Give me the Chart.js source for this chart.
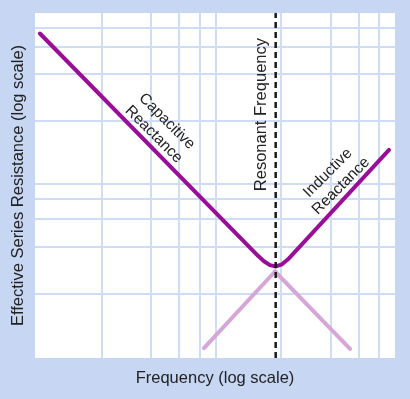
<!DOCTYPE html>
<html>
<head>
<meta charset="utf-8">
<title>ESR vs Frequency</title>
<script src="https://cdn.jsdelivr.net/npm/chart.js@4.4.0/dist/chart.umd.min.js"></script>
<style>
  html, body { margin: 0; padding: 0; background: #c6d6f3; }
  canvas { display: block; }
</style>
</head>
<body>
<canvas id="chart" width="410" height="399"></canvas>
<script>
// grid positions (log scale, both axes)
const freqGrid = [1, 2, 3, 4, 5, 12.6, 25.4, 38, 50.5];
const resGrid = [1, 2, 3, 4, 5, 12.4, 24.8, 36.8, 48.5];

// effective series resistance curve
const esrFreq = [0.418, 9.10, 9.90, 10.78, 11.73, 12.77, 13.90, 15.13, 57.9];
const esrValue = [44.7, 1.748, 1.613, 1.526, 1.496, 1.544, 1.661, 1.826, 8.19];

// reactance lines below the resonance
const inductiveFreq = [4.24, 11.57];
const inductiveValue = [0.455, 1.39];
const capacitiveFreq = [11.57, 33.4];
const capacitiveValue = [1.39, 0.449];

const resonantFreq = 11.68;

// labels on the plot
const noteText = [["Capacitive", "Reactance"], ["Inductive", "Reactance"], ["Resonant Frequency"]];
const noteAt = [[2.29, 11.29], [26.8, 5.32], [9.52, 13.7]];
const noteAngle = [45, -45, -90];

document.addEventListener("DOMContentLoaded", function () {
  const ctx = document.getElementById("chart").getContext("2d");

  const toPoints = (xs, ys) => xs.map((x, i) => ({ x: x, y: ys[i] }));

  const background = {
    id: "background",
    beforeDraw(chart) {
      const c = chart.ctx;
      const a = chart.chartArea;
      c.save();
      c.fillStyle = "#c6d6f3";
      c.fillRect(0, 0, chart.width, chart.height);
      c.fillStyle = "#ffffff";
      c.fillRect(a.left, a.top, a.right - a.left, a.bottom - a.top);
      c.restore();
    },
  };

  const notes = {
    id: "notes",
    afterDatasetsDraw(chart) {
      const c = chart.ctx;
      const xs = chart.scales.x;
      const ys = chart.scales.y;
      c.save();
      c.fillStyle = "#222222";
      c.textAlign = "center";
      c.textBaseline = "middle";
      noteText.forEach((lines, i) => {
        const px = xs.getPixelForValue(noteAt[i][0]);
        const py = ys.getPixelForValue(noteAt[i][1]);
        c.save();
        c.translate(px, py);
        c.rotate((noteAngle[i] * Math.PI) / 180);
        c.font = lines.length > 1 ? "15.5px 'Liberation Sans', Arial, sans-serif" : "16.5px 'Liberation Sans', Arial, sans-serif";
        const lh = 18.5;
        lines.forEach((t, j) => {
          c.fillText(t, 0, (j - (lines.length - 1) / 2) * lh);
        });
        c.restore();
      });
      c.restore();
    },
  };

  const chartConfig = {
    type: "line",
    data: {
      datasets: [
        {
          label: "Resonant Frequency",
          data: [{ x: resonantFreq, y: 0.3936 }, { x: resonantFreq, y: 60.3 }],
          borderColor: "#1a1a1a",
          borderWidth: 2.5,
          borderDash: [6, 4],
          pointRadius: 0,
        },
        {
          label: "ESR",
          data: toPoints(esrFreq, esrValue),
          borderColor: "#990d99",
          borderWidth: 4,
          borderCapStyle: "round",
          borderJoinStyle: "round",
          pointRadius: 0,
        },
        {
          label: "Inductive",
          data: toPoints(inductiveFreq, inductiveValue),
          borderColor: "#d5a6d7",
          borderWidth: 4,
          borderCapStyle: "round",
          pointRadius: 0,
        },
        {
          label: "Capacitive",
          data: toPoints(capacitiveFreq, capacitiveValue),
          borderColor: "#d5a6d7",
          borderWidth: 4,
          borderCapStyle: "round",
          pointRadius: 0,
        },
      ],
    },
    options: {
      responsive: false,
      animation: false,
      layout: { padding: { top: 13, right: 15, left: 0, bottom: 0 } },
      plugins: { legend: { display: false }, tooltip: { enabled: false } },
      scales: {
        x: {
          type: "logarithmic",
          min: 0.39,
          max: 63,
          afterBuildTicks: (scale) => {
            scale.ticks = freqGrid.map((v) => ({ value: v }));
          },
          afterFit: (scale) => {
            scale.height = 41;
          },
          ticks: { display: false },
          border: { display: false },
          grid: { color: "#cfdcf6", lineWidth: 2, drawTicks: false },
          title: {
            display: true,
            text: "Frequency (log scale)",
            color: "#222222",
            font: { family: "'Liberation Sans', Arial, sans-serif", size: 16.5 },
            padding: { top: 0, bottom: 11 },
          },
        },
        y: {
          type: "logarithmic",
          min: 0.3936,
          max: 60.3,
          afterBuildTicks: (scale) => {
            scale.ticks = resGrid.map((v) => ({ value: v }));
          },
          afterFit: (scale) => {
            scale.width = 35;
          },
          ticks: { display: false },
          border: { display: false },
          grid: { color: "#cfdcf6", lineWidth: 2, drawTicks: false },
          title: {
            display: true,
            text: "Effective Series Resistance (log scale)",
            color: "#222222",
            font: { family: "'Liberation Sans', Arial, sans-serif", size: 16.5 },
            padding: { top: 9, bottom: 0 },
          },
        },
      },
    },
    plugins: [background, notes],
  };

  new Chart(ctx, chartConfig);
});
</script>
</body>
</html>
